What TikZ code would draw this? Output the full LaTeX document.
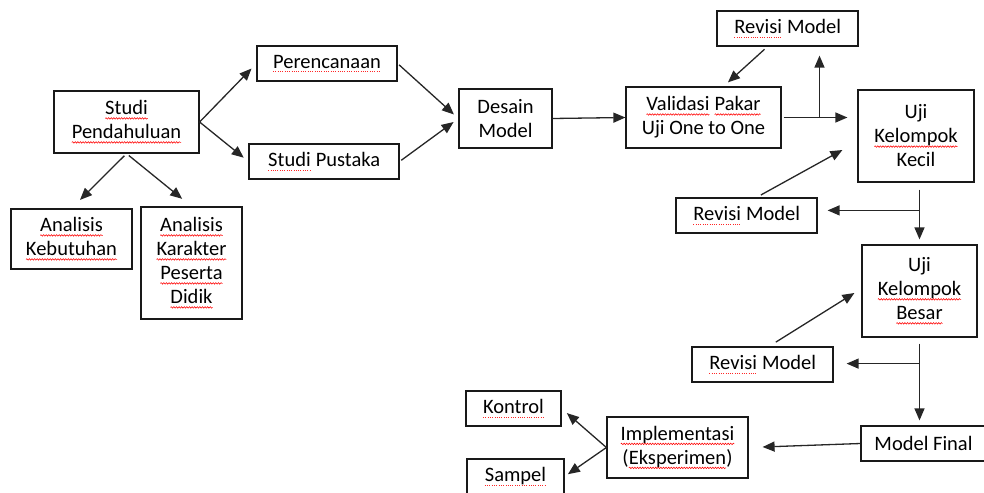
\documentclass[tikz,border=0pt]{standalone}
\usepackage{fontspec}
\setmainfont{Carlito}
\usetikzlibrary{arrows.meta,calc,decorations.pathmorphing}
\tikzset{
  wordnode/.style={draw=none, fill=none, inner sep=0pt, outer sep=0pt,
    minimum width=0pt, minimum height=0pt, align=left},
  wavyline/.style={draw=red, line width=0.55pt, decorate,
    decoration={snake, amplitude=0.75pt, segment length=2.6pt}},
  dotline/.style={draw=red!85, line width=0.8pt, dash pattern=on 0.8pt off 1.5pt}
}
\newcommand\sqw[1]{\tikz[baseline=(w.base)]{\node[wordnode](w){#1};\path[wavyline] ([yshift=-3.6pt]w.base west) -- ([yshift=-3.6pt]w.base east);}}
\newcommand\sqd[1]{\tikz[baseline=(w.base)]{\node[wordnode](w){#1};\path[dotline] ([yshift=-3.6pt]w.base west) -- ([yshift=-3.6pt]w.base east);}}
\begin{document}
\begin{tikzpicture}[x=1pt,y=-1pt,
  box/.style={draw=black!90, line width=1.2pt, inner sep=0pt, align=center,
    font=\fontsize{20.5}{24}\selectfont, text=black},
  arr/.style={draw=black!85, line width=1.3pt, -{Triangle[length=12pt,width=10pt]}}]
\useasboundingbox (0,0) rectangle (984,492);
% nodes
\node[box, minimum width=145pt, minimum height=62pt] (spd) at (126.5,122) {\sqw{Studi}\\\sqw{Pendahuluan}};
\node[box, minimum width=121pt, minimum height=60pt] (akb) at (71.5,239) {\sqw{Analisis}\\\sqw{Kebutuhan}};
\node[box, minimum width=101pt, minimum height=112pt] (akp) at (191.5,263) {\sqw{Analisis}\\\sqw{Karakter}\\\sqw{Peserta}\\\sqw{Didik}};
\node[box, minimum width=140pt, minimum height=35pt] (per) at (327,63.5) {\sqd{Perencanaan}};
\node[box, minimum width=150pt, minimum height=35pt] (pus) at (324,161.5) {\sqd{Studi} Pustaka};
\node[box, minimum width=93pt, minimum height=59pt] (des) at (505.5,118.5) {Desain\\Model};
\node[box, minimum width=155pt, minimum height=61pt] (val) at (703.5,117.5) {\sqw{Validasi} \sqw{Pakar}\\Uji One to One};
\node[box, minimum width=141pt, minimum height=35pt] (rv1) at (787.5,28.5) {\sqd{Revisi} Model};
\node[box, minimum width=116pt, minimum height=92pt] (ukk) at (916,136) {Uji\\\sqw{Kelompok}\\Kecil};
\node[box, minimum width=141pt, minimum height=35pt] (rv2) at (746.5,215.5) {\sqd{Revisi} Model};
\node[box, minimum width=115pt, minimum height=92pt] (ukb) at (919.5,291) {Uji\\\sqw{Kelompok}\\\sqw{Besar}};
\node[box, minimum width=141pt, minimum height=35pt] (rv3) at (762.5,364.5) {\sqd{Revisi} Model};
\node[box, minimum width=125pt, minimum height=35pt] (mf) at (923.5,443.5) {Model Final};
\node[box, minimum width=141pt, minimum height=61pt] (imp) at (677.5,447.5) {\sqw{Implementasi}\\(\sqw{Eksperimen})};
\node[box, minimum width=95pt, minimum height=35pt] (kon) at (513.5,408.5) {\sqd{Kontrol}};
\node[box, minimum width=97pt, minimum height=35pt] (sam) at (515.5,476.5) {\sqd{Sampel}};
% branch points
\coordinate (br1) at ($(val.east)!0.5!(val.east -| ukk.west)$);
\coordinate (br2) at ($(ukb.north)+(0,34pt)$);
\coordinate (br3) at ($(ukb.south)+(0,-26pt)$);
% connectors
\draw[arr, shorten >=7pt] (spd.east) -- (per.west);
\draw[arr, shorten >=6pt] (spd.east) -- (pus.west);
\draw[arr, shorten <=3pt, shorten >=12pt] (spd.south) -- (akb.north);
\draw[arr, shorten <=3pt, shorten >=12pt] (spd.south) -- (akp.north);
\draw[arr, shorten <=2pt, shorten >=6pt] (per.east) -- (des.west);
\draw[arr, shorten <=2pt, shorten >=6pt] (pus.east) -- (des.west);
\draw[arr] (des.east) -- (val.west);
\draw[arr, shorten <=2pt, shorten >=10pt] (val.east) -- (val.east -| ukk.west);
\draw[arr, shorten >=9pt] (br1) -- (br1 |- rv1.south);
\draw[arr, shorten <=4pt, shorten >=6pt] ([xshift=-20pt]rv1.south) -- ([xshift=20pt]val.north);
\draw[arr, shorten <=5pt] ([xshift=10pt]rv2.north) -- ([xshift=-15pt,yshift=-14pt]ukk.west);
\draw[arr, shorten <=7pt, shorten >=5pt] (ukk.south -| ukb.north) -- (ukb.north);
\draw[arr, shorten >=10pt] (br2) -- (br2 -| rv2.east);
\draw[arr, shorten <=8pt] ([xshift=6.5pt]rv3.north) -- ([xshift=-7pt,yshift=-2pt]ukb.west);
\draw[arr, shorten <=6pt, shorten >=5pt] (ukb.south) -- (ukb.south |- mf.north);
\draw[arr, shorten >=13pt] (br3) -- (br3 -| rv3.east);
\draw[arr, shorten >=14pt] (mf.west) -- (imp.east);
\draw[arr, shorten >=7pt] (imp.west) -- (kon.east);
\draw[arr, shorten >=4pt] (imp.west) -- (sam.east);
\end{tikzpicture}
\end{document}
